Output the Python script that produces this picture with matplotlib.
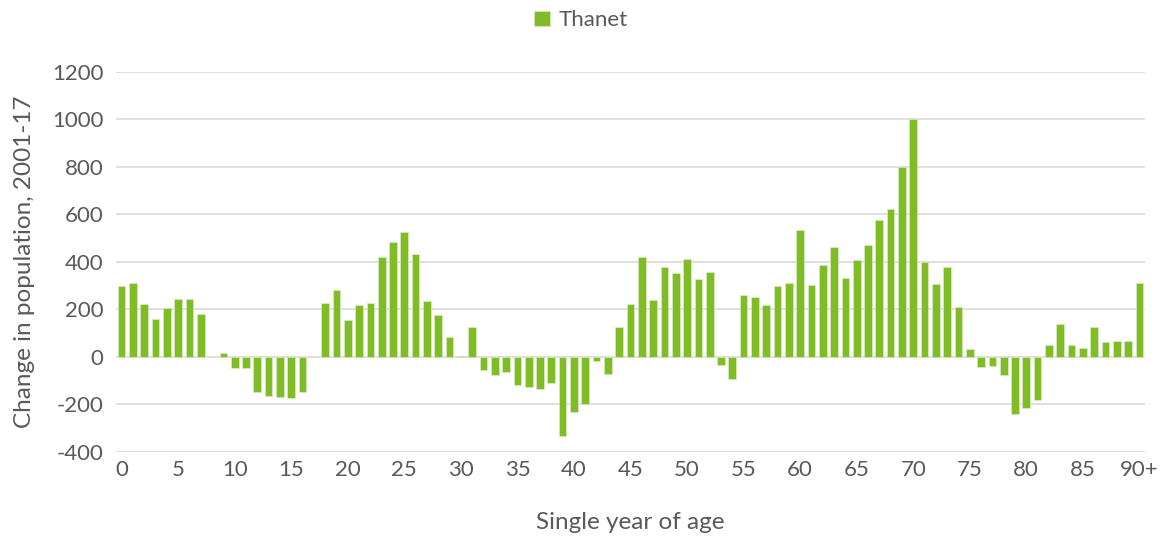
import numpy as np
import matplotlib.pyplot as plt

plt.rcParams['font.family'] = ['Lato', 'DejaVu Sans']
plt.rcParams['axes.unicode_minus'] = False

# Population change by single year of age (Thanet, 2001-17)
ages = [str(a) for a in range(90)] + ["90+"]
change = [
    297, 313, 222, 161, 208, 245, 245, 181, 2, 17,
    -48, -45, -149, -164, -168, -174, -149, -2, 229, 282,
    156, 217, 229, 422, 484, 526, 432, 237, 175, 84,
    6, 128, -56, -76, -63, -116, -126, -135, -108, -332,
    -230, -199, -18, -72, 128, 224, 422, 241, 379, 353,
    414, 327, 358, -34, -93, 261, 252, 217, 297, 313,
    534, 303, 388, 463, 334, 410, 473, 576, 623, 801,
    1000, 401, 307, 380, 212, 35, -42, -36, -74, -240,
    -216, -181, 50, 140, 49, 36, 125, 65, 69, 67,
    313,
]
tick_pos = list(range(0, 91, 5))
tick_labels = [str(t) for t in range(0, 90, 5)] + ["90+"]

text_col = '#595959'
bar_col = '#80BC26'

fig = plt.figure(figsize=(11.62, 5.38), dpi=100)
ax = fig.add_axes([0.0998, 0.1599, 0.8856, 0.7063])

x = np.arange(len(ages))
ax.bar(x, change, width=0.68, color=bar_col, edgecolor='#D8ECC0', linewidth=0.5,
       label='Thanet', zorder=3)

ax.set_xlim(-0.5, len(ages) - 0.5)
ax.set_ylim(-400, 1200)
ax.set_yticks(range(-400, 1201, 200))
ax.set_xticks(tick_pos)
ax.set_xticklabels(tick_labels)

ax.grid(axis='y', color='#D9D9D9', linewidth=1.2, zorder=0)
for s in ax.spines.values():
    s.set_visible(False)
ax.tick_params(length=0, labelsize=16, colors=text_col)
ax.tick_params(axis='x', pad=6)
ax.tick_params(axis='y', pad=9)

ax.set_xlabel('Single year of age', fontsize=17.5, color=text_col, labelpad=23)
ax.set_ylabel('Change in population, 2001-17', fontsize=17.5, color=text_col, labelpad=12)

fig.legend(loc='upper center', bbox_to_anchor=(0.5, 1.018), frameon=False,
           fontsize=16, labelcolor=text_col, handlelength=0.7, handleheight=0.7,
           handletextpad=0.4)

fig.savefig('out.png', dpi=100)
